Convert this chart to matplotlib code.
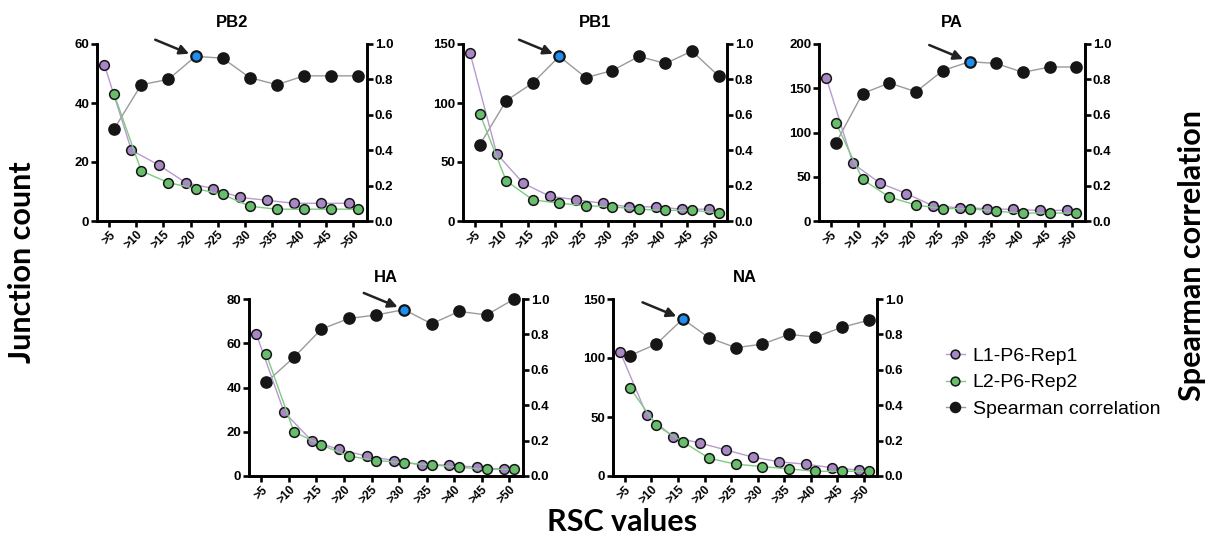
import matplotlib
matplotlib.use("Agg")
import matplotlib.pyplot as plt
import numpy as np

plt.rcParams["font.family"] = ["Liberation Sans", "DejaVu Sans"]

# ---- data ----
rsc_labels = [">5", ">10", ">15", ">20", ">25", ">30", ">35", ">40", ">45", ">50"]
segments = ["PB2", "PB1", "PA", "HA", "NA"]

rep1 = {
    "PB2": [53, 24, 19, 13, 11, 8, 7, 6, 6, 6],
    "PB1": [142, 57, 32, 21, 18, 15, 12, 12, 10, 10],
    "PA":  [162, 65, 43, 31, 17, 15, 14, 13, 12, 12],
    "HA":  [64, 29, 16, 12, 9, 7, 5, 5, 4, 3],
    "NA":  [105, 52, 33, 28, 22, 16, 12, 10, 7, 5],
}
rep2 = {
    "PB2": [43, 17, 13, 11, 9, 5, 4, 4, 4, 4],
    "PB1": [91, 34, 18, 15, 13, 12, 10, 9, 9, 7],
    "PA":  [111, 47, 27, 18, 14, 14, 11, 9, 9, 9],
    "HA":  [55, 20, 14, 9, 7, 6, 5, 4, 3, 3],
    "NA":  [75, 43, 29, 15, 10, 8, 6, 4, 4, 4],
}
spearman = {
    "PB2": [0.52, 0.77, 0.80, 0.93, 0.92, 0.81, 0.77, 0.82, 0.82, 0.82],
    "PB1": [0.43, 0.68, 0.78, 0.93, 0.81, 0.85, 0.93, 0.89, 0.96, 0.82],
    "PA":  [0.44, 0.72, 0.78, 0.73, 0.85, 0.90, 0.89, 0.84, 0.87, 0.87],
    "HA":  [0.53, 0.67, 0.83, 0.89, 0.91, 0.94, 0.86, 0.93, 0.91, 1.00],
    "NA":  [0.68, 0.745, 0.887, 0.78, 0.725, 0.745, 0.80, 0.785, 0.84, 0.88],
}
best_idx = {"PB2": 3, "PB1": 3, "PA": 5, "HA": 5, "NA": 2}
left_max = {"PB2": 60, "PB1": 150, "PA": 200, "HA": 80, "NA": 150}
left_step = {"PB2": 20, "PB1": 50, "PA": 50, "HA": 20, "NA": 50}

# axes boxes in pixels: left, top, right, bottom
W, H = 1214, 545
boxes = {
    "PB2": (97, 44, 367, 221),
    "PB1": (463, 44, 727, 221),
    "PA":  (819, 44, 1085, 221),
    "HA":  (249, 299, 523, 476),
    "NA":  (613, 299, 877, 476),
}

PURPLE, PURPLE_LN = "#a888c4", "#b99ad0"
GREEN, GREEN_LN = "#67bd6c", "#7fca83"
BLACK, GRAY_LN = "#161616", "#9a9a9a"
BLUE = "#1e8ff0"
SPINE_W = 1.9

fig = plt.figure(figsize=(W / 100, H / 100), dpi=100)

def style(ax):
    for s in ["left", "right", "bottom"]:
        ax.spines[s].set_linewidth(SPINE_W)
    ax.spines["top"].set_visible(False)
    ax.tick_params(width=SPINE_W, length=4, labelsize=9.5, pad=1.5)
    for lab in ax.get_yticklabels():
        lab.set_fontweight("bold")

handles = None
x = np.arange(len(rsc_labels))
off = 0.18
for seg in segments:
    l, t, r, b = boxes[seg]
    ax = fig.add_axes([l / W, 1 - b / H, (r - l) / W, (b - t) / H])
    ax2 = ax.twinx()
    ax.set_zorder(ax2.get_zorder() + 1)
    ax.patch.set_visible(False)

    h1, = ax.plot(x - off, rep1[seg], "-o", color=PURPLE_LN, lw=1, mfc=PURPLE,
                  mec=BLACK, mew=1.1, ms=7, label="L1-P6-Rep1", clip_on=False)
    h2, = ax.plot(x + off, rep2[seg], "-o", color=GREEN_LN, lw=1, mfc=GREEN,
                  mec=BLACK, mew=1.1, ms=7, label="L2-P6-Rep2", clip_on=False)
    sp = spearman[seg]
    h3, = ax2.plot(x + off, sp, "-o", color=GRAY_LN, lw=1, mfc=BLACK,
                   mec=BLACK, mew=1.1, ms=8, label="Spearman correlation",
                   clip_on=False)
    bi = best_idx[seg]
    ax2.plot(x[bi] + off, sp[bi], "o", mfc=BLUE, mec=BLACK, mew=1.1, ms=7,
             zorder=5, clip_on=False)
    ax2.annotate("", xy=(x[bi] + off, sp[bi]), xytext=(-29, 12),
                 textcoords="offset points",
                 arrowprops=dict(arrowstyle="-|>", color="#222222", lw=1.8,
                                 mutation_scale=14, shrinkA=0, shrinkB=5))

    ax.set_xlim(-0.45, len(rsc_labels) - 0.5)
    ax.set_ylim(0, left_max[seg])
    ax.set_yticks(np.arange(0, left_max[seg] + 1, left_step[seg]))
    ax2.set_ylim(0, 1.0)
    ax2.set_yticks(np.arange(0, 1.01, 0.2))
    ax2.yaxis.set_major_formatter(plt.FuncFormatter(lambda v, _: f"{v:.1f}"))
    ax.set_xticks(x)
    ax.set_xticklabels(rsc_labels, rotation=45, ha="right",
                       rotation_mode="anchor")
    style(ax)
    style(ax2)
    ax.set_title(seg, fontsize=12, fontweight="bold", pad=12)
    for lab in ax.get_xticklabels():
        lab.set_fontweight("bold")
        lab.set_fontsize(8.5)
    handles = [h1, h2, h3]

fig.legend(handles=handles, loc="upper left",
           bbox_to_anchor=(928 / W, 1 - 330 / H), frameon=False,
           fontsize=14, handlelength=1.0, handletextpad=0.4, labelspacing=0.45,
           markerscale=0.9)

big = dict(family=["Lato", "DejaVu Sans"], fontweight="bold", fontsize=22)
fig.text(22 / W, 1 - 262 / H, "Junction count", rotation=90, ha="center",
         va="center", **big)
fig.text(1192 / W, 1 - 255 / H, "Spearman correlation", rotation=90,
         ha="center", va="center", **big)
fig.text(622 / W, 1 - 522 / H, "RSC values", ha="center", va="center", **big)

fig.savefig("out.png", dpi=100)
